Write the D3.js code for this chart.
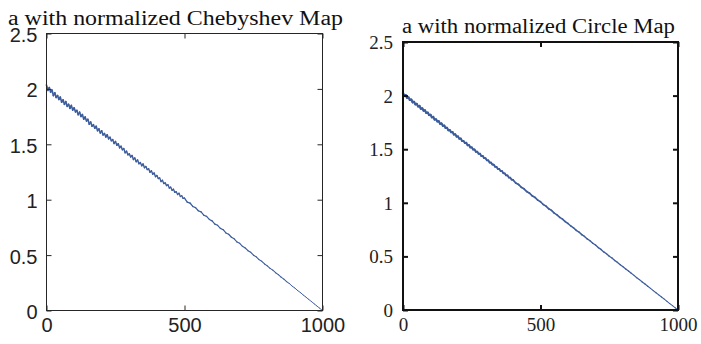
<!DOCTYPE html>
<html>
<head>
<meta charset="utf-8">
<script src="https://cdn.jsdelivr.net/npm/d3@7/dist/d3.min.js"></script>
<style>
  html, body { margin: 0; padding: 0; background: #fff; }
  svg { display: block; }
</style>
</head>
<body>
<svg id="chart" width="701" height="344"></svg>
<script>
// Iteration axis ticks and value axis ticks
const xTicks = [0, 500, 1000];
const yTicks = [0, 0.5, 1, 1.5, 2, 2.5];

// Control parameter a, driven by the normalized Chebyshev map
const chebIter = [
  0, 5, 10, 15, 20, 25, 30, 35, 40, 45, 50, 55, 60, 65, 70, 75, 80, 85, 90, 95,
  100, 105, 110, 115, 120, 125, 130, 135, 140, 145, 150, 155, 160, 165, 170, 175, 180, 185, 190, 195,
  200, 205, 210, 215, 220, 225, 230, 235, 240, 245, 250, 255, 260, 265, 270, 275, 280, 285, 290, 295,
  300, 305, 310, 315, 320, 325, 330, 335, 340, 345, 350, 355, 360, 365, 370, 375, 380, 385, 390, 395,
  400, 405, 410, 415, 420, 425, 430, 435, 440, 445, 450, 455, 460, 465, 470, 475, 480, 485, 490, 495,
  500, 510, 520, 530, 540, 550, 560, 570, 580, 590, 600, 610, 620, 630, 640, 650, 660, 670, 680, 690,
  700, 710, 720, 730, 740, 750, 760, 770, 780, 790, 800, 810, 820, 830, 840, 850, 860, 870, 880, 890,
  900, 910, 920, 930, 940, 950, 960, 970, 980, 990, 1000
];
const chebA = [
  2.034, 1.987, 2.012, 1.971, 1.989, 1.940, 1.965, 1.923, 1.940, 1.905, 1.926, 1.880, 1.901, 1.861, 1.885, 1.843, 1.861, 1.825, 1.851, 1.809,
  1.829, 1.793, 1.806, 1.767, 1.790, 1.751, 1.769, 1.727, 1.747, 1.711, 1.725, 1.681, 1.701, 1.664, 1.677, 1.645, 1.663, 1.622, 1.639, 1.602,
  1.622, 1.584, 1.598, 1.566, 1.586, 1.549, 1.564, 1.532, 1.542, 1.507, 1.526, 1.491, 1.505, 1.468, 1.483, 1.451, 1.461, 1.423, 1.438, 1.405,
  1.414, 1.386, 1.399, 1.363, 1.376, 1.343, 1.358, 1.325, 1.335, 1.306, 1.322, 1.289, 1.300, 1.272, 1.279, 1.248, 1.261, 1.230, 1.241, 1.208,
  1.219, 1.191, 1.197, 1.164, 1.175, 1.146, 1.152, 1.127, 1.135, 1.105, 1.113, 1.085, 1.095, 1.066, 1.072, 1.047, 1.058, 1.029, 1.036, 1.012,
  1.015, 0.978, 0.970, 0.939, 0.928, 0.900, 0.890, 0.860, 0.849, 0.822, 0.809, 0.780, 0.769, 0.741, 0.729, 0.700, 0.688, 0.661, 0.647, 0.619,
  0.606, 0.579, 0.564, 0.540, 0.525, 0.499, 0.484, 0.459, 0.444, 0.420, 0.403, 0.380, 0.364, 0.341, 0.324, 0.301, 0.283, 0.260, 0.243, 0.220,
  0.202, 0.180, 0.162, 0.140, 0.121, 0.100, 0.081, 0.060, 0.040, 0.020, 0.000
];

// Control parameter a, driven by the normalized Circle map
const circIter = [
  0, 5, 10, 15, 20, 25, 30, 35, 40, 45, 50, 55, 60, 65, 70, 75, 80, 85, 90, 95,
  100, 105, 110, 115, 120, 125, 130, 135, 140, 145, 150, 155, 160, 165, 170, 175, 180, 185, 190, 195,
  200, 205, 210, 215, 220, 225, 230, 235, 240, 245, 250, 255, 260, 265, 270, 275, 280, 285, 290, 295,
  300, 305, 310, 315, 320, 325, 330, 335, 340, 345, 350, 355, 360, 365, 370, 375, 380, 385, 390, 395,
  400, 410, 420, 430, 440, 450, 460, 470, 480, 490, 500, 510, 520, 530, 540, 550, 560, 570, 580, 590,
  600, 610, 620, 630, 640, 650, 660, 670, 680, 690, 700, 710, 720, 730, 740, 750, 760, 770, 780, 790,
  800, 810, 820, 830, 840, 850, 860, 870, 880, 890, 900, 910, 920, 930, 940, 950, 960, 970, 980, 990,
  1000
];
const circA = [
  2.023, 1.999, 2.004, 1.979, 1.982, 1.960, 1.963, 1.938, 1.942, 1.919, 1.922, 1.899, 1.903, 1.878, 1.881, 1.860, 1.862, 1.838, 1.841, 1.819,
  1.821, 1.798, 1.801, 1.777, 1.779, 1.759, 1.761, 1.737, 1.740, 1.718, 1.720, 1.698, 1.700, 1.677, 1.678, 1.659, 1.660, 1.637, 1.639, 1.618,
  1.619, 1.598, 1.599, 1.577, 1.577, 1.558, 1.559, 1.537, 1.538, 1.517, 1.517, 1.497, 1.498, 1.476, 1.476, 1.458, 1.457, 1.436, 1.436, 1.417,
  1.416, 1.396, 1.396, 1.376, 1.375, 1.357, 1.356, 1.336, 1.335, 1.316, 1.315, 1.296, 1.296, 1.276, 1.274, 1.256, 1.255, 1.235, 1.234, 1.216,
  1.214, 1.185, 1.171, 1.145, 1.130, 1.105, 1.090, 1.065, 1.050, 1.025, 1.010, 0.984, 0.969, 0.944, 0.929, 0.904, 0.888, 0.864, 0.848, 0.824,
  0.807, 0.784, 0.767, 0.743, 0.727, 0.703, 0.686, 0.663, 0.646, 0.623, 0.606, 0.582, 0.565, 0.542, 0.525, 0.502, 0.485, 0.462, 0.444, 0.422,
  0.404, 0.382, 0.363, 0.342, 0.323, 0.301, 0.283, 0.261, 0.242, 0.221, 0.202, 0.181, 0.161, 0.141, 0.121, 0.101, 0.081, 0.060, 0.040, 0.020,
  0.000
];

const svg = d3.select("#chart");
const lineColor = "#3d5c9c";
const serif = "'Liberation Serif', 'Times New Roman', serif";

const panels = [
  {
    title: "a with normalized Chebyshev Map",
    iter: chebIter, vals: chebA,
    left: 46.5, right: 322.5, top: 33.5, bottom: 310.5,
    tickFont: "'Liberation Sans', Arial, sans-serif", tickSize: 20,
    titleX: 175.5, titleY: 25, titleSize: 20, titleLen: 335,
    frameWidth: 1, frameColor: "#262626", lineWidth: [1.7, 0.9],
    yPad: 9, xPad: 7, yShift: 1
  },
  {
    title: "a with normalized Circle Map",
    iter: circIter, vals: circA,
    left: 403, right: 678, top: 42, bottom: 310,
    tickFont: serif, tickSize: 19,
    titleX: 538.5, titleY: 33, titleSize: 20, titleLen: 273,
    frameWidth: 2, frameColor: "#111", lineWidth: [2.3, 1.0],
    yPad: 10, xPad: 8, yShift: 0
  }
];

panels.forEach(p => {
  const x = d3.scaleLinear().domain([0, 1000]).range([p.left, p.right]);
  const y = d3.scaleLinear().domain([0, 2.5]).range([p.bottom, p.top]);
  // the trace thins out as the spread of a shrinks towards the last iteration
  const w = d3.scaleLinear().domain([0, 1000]).range(p.lineWidth);
  const g = svg.append("g");

  // series, drawn segment by segment
  const pts = p.iter.map((t, i) => [t, p.vals[i]]);
  g.append("g")
    .selectAll("line")
    .data(d3.pairs(pts))
    .join("line")
    .attr("x1", d => x(d[0][0])).attr("y1", d => y(d[0][1]))
    .attr("x2", d => x(d[1][0])).attr("y2", d => y(d[1][1]))
    .attr("stroke", lineColor)
    .attr("stroke-linecap", "round")
    .attr("stroke-width", d => w(d[0][0]));

  const styleAxis = (sel, showLabels) => {
    sel.attr("font-family", null).attr("font-size", null);
    sel.select(".domain").remove();
    sel.selectAll(".tick line")
      .attr("stroke", p.frameColor)
      .attr("stroke-width", p.frameWidth);
    sel.selectAll(".tick text")
      .attr("fill", "#222")
      .style("font-family", p.tickFont)
      .style("font-size", p.tickSize + "px");
    if (!showLabels) sel.selectAll(".tick text").remove();
  };

  // inward ticks on all four sides
  g.append("g").attr("transform", `translate(0,${p.bottom})`)
    .call(d3.axisBottom(x).tickValues(xTicks).tickFormat(d3.format("d"))
      .tickSizeInner(-5).tickSizeOuter(0).tickPadding(p.xPad))
    .call(s => styleAxis(s, true));
  g.append("g").attr("transform", `translate(0,${p.top})`)
    .call(d3.axisTop(x).tickValues(xTicks).tickSizeInner(-5).tickSizeOuter(0))
    .call(s => styleAxis(s, false));
  g.append("g").attr("transform", `translate(${p.left},0)`)
    .call(d3.axisLeft(y).tickValues(yTicks).tickFormat(d => String(d))
      .tickSizeInner(-5).tickSizeOuter(0).tickPadding(p.yPad))
    .call(s => styleAxis(s, true))
    .call(s => s.selectAll(".tick text").attr("dy", null)
      .attr("dominant-baseline", "central").attr("y", p.yShift));
  g.append("g").attr("transform", `translate(${p.right},0)`)
    .call(d3.axisRight(y).tickValues(yTicks).tickSizeInner(-5).tickSizeOuter(0))
    .call(s => styleAxis(s, false));

  // frame
  g.append("rect")
    .attr("x", p.left).attr("y", p.top)
    .attr("width", p.right - p.left).attr("height", p.bottom - p.top)
    .attr("fill", "none")
    .attr("stroke", p.frameColor)
    .attr("stroke-width", p.frameWidth);

  // title
  g.append("text")
    .attr("x", p.titleX).attr("y", p.titleY)
    .attr("text-anchor", "middle")
    .attr("textLength", p.titleLen)
    .attr("lengthAdjust", "spacingAndGlyphs")
    .style("font-family", serif)
    .style("font-size", p.titleSize + "px")
    .attr("fill", "#111")
    .text(p.title);
});
</script>
</body>
</html>
